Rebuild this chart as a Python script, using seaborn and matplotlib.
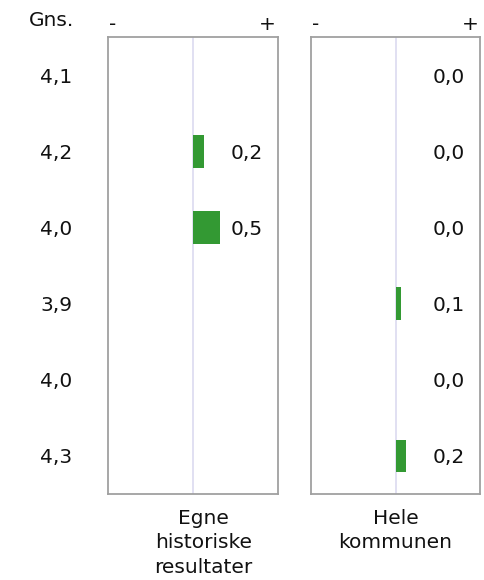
import matplotlib
matplotlib.use("Agg")
import matplotlib.pyplot as plt
import matplotlib.transforms as mtransforms
import numpy as np
import pandas as pd
import seaborn as sns

# data
rows = ["r1", "r2", "r3", "r4", "r5", "r6"]
gns = ["4,1", "4,2", "4,0", "3,9", "4,0", "4,3"]
egne = [np.nan, 0.2, 0.5, np.nan, np.nan, np.nan]
hele = [0.0, 0.0, 0.0, 0.1, 0.0, 0.2]
panel_titles = ["Egne\nhistoriske\nresultater", "Hele\nkommunen"]

GREEN = "#339933"
EDGE = "#a0a0a0"
MID = "#dcdaf0"
FS = 14.5

sns.set_theme(style="white")
plt.rcParams["font.family"] = ["DejaVu Sans"]

fig = plt.figure(figsize=(4.84, 5.80), dpi=100)
ax_l = fig.add_axes([108 / 484, 1 - 494 / 580, 170 / 484, 457 / 580])
ax_r = fig.add_axes([311 / 484, 1 - 494 / 580, 169 / 484, 457 / 580])

# nudge row labels down a little so they sit level with the bars
down = mtransforms.ScaledTranslation(0, -2 / 100, fig.dpi_scale_trans)

for ax, vals, title in [(ax_l, egne, panel_titles[0]), (ax_r, hele, panel_titles[1])]:
    df = pd.DataFrame({"row": rows, "value": vals})
    ax.axvline(0, color=MID, lw=1.2, zorder=0)
    sns.barplot(data=df, x="value", y="row", orient="h", color=GREEN,
                width=0.43, saturation=1, linewidth=0, ax=ax, zorder=2)
    ax.set_xlim(-1.55, 1.55)
    ax.set_ylim(5.5, -0.5)
    ax.set_xticks([])
    ax.set_yticks([])
    ax.set_xlabel("")
    ax.set_ylabel("")
    for s in ax.spines.values():
        s.set_color(EDGE)
        s.set_linewidth(1.3)
    tr = mtransforms.blended_transform_factory(ax.transAxes, ax.transData) + down
    for i, v in enumerate(vals):
        if np.isnan(v):
            continue
        ax.text(0.91, i, f"{v:.1f}".replace(".", ","), transform=tr,
                ha="right", va="center", fontsize=FS, color="#111111")
    ax.text(0.03, 1.028, "-", transform=ax.transAxes, ha="center", va="center",
            fontsize=FS, color="#111111")
    ax.text(0.94, 1.028, "+", transform=ax.transAxes, ha="center", va="center",
            fontsize=FS, color="#111111")
    ax.text(0.56 if ax is ax_l else 0.5, -0.032, title, transform=ax.transAxes,
            ha="center", va="top", fontsize=FS, color="#111111", linespacing=1.38)

trg = mtransforms.blended_transform_factory(fig.transFigure, ax_l.transData) + down
for i, g in enumerate(gns):
    ax_l.text(56 / 484, i, g, transform=trg, ha="center", va="center",
              fontsize=FS, color="#111111")
fig.text(51 / 484, 1 - 20 / 580, "Gns.", ha="center", va="center",
         fontsize=FS, color="#111111")

fig.savefig("out.png", dpi=100)
